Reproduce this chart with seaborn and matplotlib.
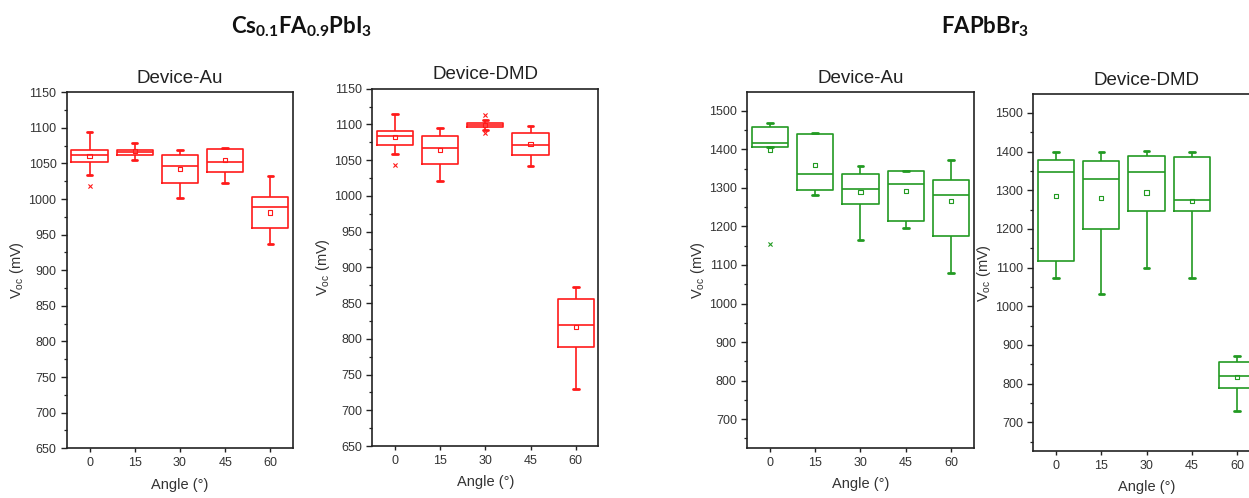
import numpy as np
import pandas as pd
import matplotlib
matplotlib.use("Agg")
import matplotlib.pyplot as plt
from matplotlib.ticker import MultipleLocator
import seaborn as sns

# ---------------- data ----------------
angles = ["0", "15", "30", "45", "60"]

# Cs0.1FA0.9PbI3 - Device-Au
cs_au_low = [1034, 1055, 1002, 1022, 936.5]
cs_au_q1 = [1052, 1061.5, 1023, 1038.6, 959.4]
cs_au_med = [1062.5, 1066, 1046, 1052.2, 989]
cs_au_q3 = [1068.5, 1069.5, 1062.5, 1070.4, 1003]
cs_au_high = [1094, 1079, 1069, 1071.3, 1032]
cs_au_mean = [1060, 1067, 1042.3, 1055, 981]
cs_au_out_angle = ["0"]
cs_au_out_val = [1018.4]

# Cs0.1FA0.9PbI3 - Device-DMD
cs_dmd_low = [1058, 1021, 1092.6, 1042, 729.3]
cs_dmd_q1 = [1071.6, 1044.1, 1096.4, 1057.6, 788.5]
cs_dmd_med = [1083.8, 1067, 1099.2, 1071.6, 819.3]
cs_dmd_q3 = [1090.3, 1084.2, 1102, 1088, 855.2]
cs_dmd_high = [1115, 1094.5, 1105.7, 1098.2, 872.5]
cs_dmd_mean = [1082, 1064.2, 1099, 1073, 817]
cs_dmd_out_angle = ["0", "30", "30"]
cs_dmd_out_val = [1043.5, 1113, 1088.4]

# FAPbBr3 - Device-Au
fa_au_low = [1405, 1282, 1165, 1196, 1079]
fa_au_q1 = [1405, 1295, 1259, 1214, 1176]
fa_au_med = [1416, 1337, 1298, 1310.5, 1282]
fa_au_q3 = [1458, 1438.5, 1335, 1342.5, 1321]
fa_au_high = [1469.5, 1442, 1357, 1344, 1372]
fa_au_mean = [1399, 1359, 1289, 1291, 1266.5]
fa_au_out_angle = ["0"]
fa_au_out_val = [1155]

# FAPbBr3 - Device-DMD
fa_dmd_low = [1074, 1032, 1099, 1072, 729.3]
fa_dmd_q1 = [1116, 1199, 1246, 1246, 788.5]
fa_dmd_med = [1346, 1330, 1346, 1276, 819.3]
fa_dmd_q3 = [1378, 1376, 1388, 1385, 855.2]
fa_dmd_high = [1400, 1400, 1401, 1400, 872.5]
fa_dmd_mean = [1286, 1280, 1294, 1273, 817]
fa_dmd_out_angle = []
fa_dmd_out_val = []

RED = "#FF1A1A"
GREEN = "#229A22"

# ---------------- style ----------------
sns.set_style("ticks")
plt.rcParams["font.family"] = ["Liberation Sans", "DejaVu Sans"]
plt.rcParams["axes.edgecolor"] = "#222222"
plt.rcParams["axes.linewidth"] = 1.2
plt.rcParams["xtick.color"] = "#222222"
plt.rcParams["ytick.color"] = "#222222"
plt.rcParams["xtick.labelcolor"] = "#333333"
plt.rcParams["ytick.labelcolor"] = "#333333"

fig = plt.figure(figsize=(12.49, 4.98), dpi=100)
fig.patch.set_facecolor("white")


def panel(rect, lo, q1, med, q3, hi, mean, out_a, out_v, color, title, ylim, major, minor):
    ax = fig.add_axes(rect)
    df = pd.DataFrame({
        "Angle": np.repeat(angles, 5),
        "Voc": np.column_stack([lo, q1, med, q3, hi]).ravel(),
    })
    sns.boxplot(data=df, x="Angle", y="Voc", order=angles, whis=np.inf,
                width=0.8, fill=False, color=color, linecolor=color,
                linewidth=1.2, capwidths=0.12, showfliers=False,
                capprops=dict(linewidth=2.0), ax=ax)
    sns.stripplot(x=angles, y=mean, order=angles, jitter=False, marker="s",
                  size=3.0, color=color, facecolors="none", edgecolor=color,
                  linewidth=0.8, ax=ax, zorder=4)
    if len(out_v):
        sns.stripplot(x=out_a, y=out_v, order=angles, jitter=False, marker="x",
                      size=3.0, color=color, linewidth=0.8, ax=ax, zorder=4)
    ax.set_xlim(-0.5, 4.5)
    ax.set_ylim(*ylim)
    ax.yaxis.set_major_locator(MultipleLocator(major))
    ax.yaxis.set_minor_locator(MultipleLocator(minor))
    ax.tick_params(axis="y", which="major", length=4, width=1.0, labelsize=9, direction="out")
    ax.tick_params(axis="y", which="minor", length=2.5, width=0.9, direction="out")
    ax.tick_params(axis="x", which="major", length=3, width=1.0, labelsize=9, direction="out")
    for s in ax.spines.values():
        s.set_visible(True)
        s.set_color("#222222")
        s.set_linewidth(1.2)
    ax.set_title(title, fontsize=13.5, color="#222222", pad=7)
    ax.set_xlabel("Angle (°)", fontsize=10.5, color="#333333", labelpad=6)
    ax.set_ylabel(r"V$\mathregular{_{oc}}$ (mV)", fontsize=10.5, color="#333333", labelpad=1.5)
    return ax


panel([0.0536, 0.0998, 0.181, 0.715], cs_au_low, cs_au_q1, cs_au_med, cs_au_q3,
      cs_au_high, cs_au_mean, cs_au_out_angle, cs_au_out_val, RED, "Device-Au",
      (650, 1150), 50, 25)
panel([0.2981, 0.1044, 0.181, 0.7175], cs_dmd_low, cs_dmd_q1, cs_dmd_med, cs_dmd_q3,
      cs_dmd_high, cs_dmd_mean, cs_dmd_out_angle, cs_dmd_out_val, RED, "Device-DMD",
      (650, 1150), 50, 25)
panel([0.5983, 0.1010, 0.1813, 0.7137], fa_au_low, fa_au_q1, fa_au_med, fa_au_q3,
      fa_au_high, fa_au_mean, fa_au_out_angle, fa_au_out_val, GREEN, "Device-Au",
      (626, 1548), 100, 50)
panel([0.8273, 0.0944, 0.1813, 0.7163], fa_dmd_low, fa_dmd_q1, fa_dmd_med, fa_dmd_q3,
      fa_dmd_high, fa_dmd_mean, fa_dmd_out_angle, fa_dmd_out_val, GREEN, "Device-DMD",
      (626, 1548), 100, 50)

fig.text(0.2418, 0.9337, r"Cs$\mathregular{_{0.1}}$FA$\mathregular{_{0.9}}$PbI$\mathregular{_3}$",
         ha="center", va="baseline", fontsize=16, fontweight="bold",
         family=["Lato", "DejaVu Sans"], color="#111111")
fig.text(0.7886, 0.9337, r"FAPbBr$\mathregular{_3}$",
         ha="center", va="baseline", fontsize=16, fontweight="bold",
         family=["Lato", "DejaVu Sans"], color="#111111")

fig.savefig("out.png", dpi=100, facecolor="white")
